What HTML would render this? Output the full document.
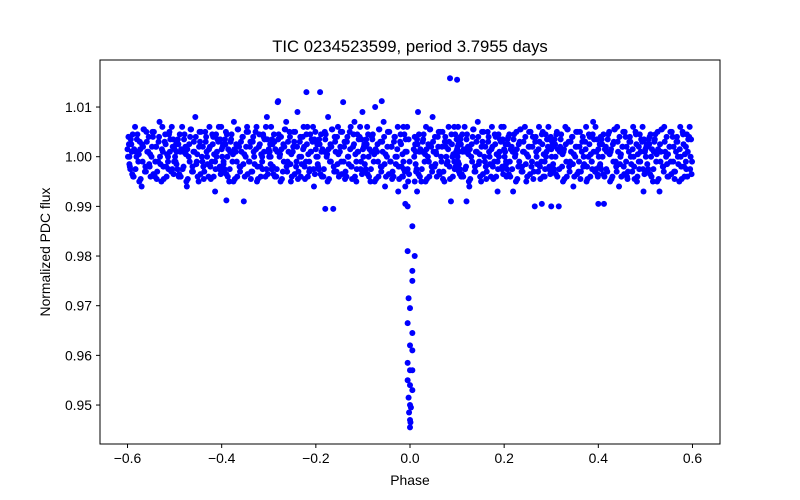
<!DOCTYPE html>
<html><head><meta charset="utf-8"><style>
html,body{margin:0;padding:0;background:#fff;}
svg{display:block;font-family:"Liberation Sans",sans-serif;}
</style></head><body>
<svg id="chart" width="800" height="500" viewBox="0 0 800 500">
<rect x="0" y="0" width="800" height="500" fill="#fff"/>
<text x="410" y="52" font-size="16.7" text-anchor="middle">TIC 0234523599, period 3.7955 days</text>
<g id="points"></g>
<g id="axes"></g>
<text x="410" y="485" font-size="13.9" text-anchor="middle">Phase</text>
<text transform="translate(50,252) rotate(-90)" font-size="13.9" text-anchor="middle">Normalized PDC flux</text>
</svg>
<script>
const segStarts=[-0.6,-0.5,-0.4,-0.3,-0.2,-0.1,0.008,0.1,0.2,0.3,0.4,0.5];
const segOffsets=[0.002,0.005,0.009,0.012,0.016,0.019,0.023,0.026,0.030,0.033,0.037,0.040,0.044,0.047,0.051,0.054,0.058,0.061,0.065,0.068,0.072,0.075,0.079,0.082,0.086,0.089,0.093,0.096,0.099,0.004];
const segOffsetsB=[0.004,0.007,0.010,0.014,0.017,0.021,0.024,0.028,0.031,0.035,0.038,0.042,0.045,0.049,0.052,0.056,0.059,0.063,0.066,0.070,0.073,0.077,0.080,0.084,0.087,0.091,0.094,0.098,0.001,0.008];
const segOffsetsC=[0.003,0.006,0.011,0.013,0.018,0.020,0.025,0.027,0.032,0.034,0.039,0.041,0.046,0.048,0.053,0.055,0.060,0.062,0.067,0.069,0.074,0.076,0.081,0.083,0.088,0.090,0.095,0.097,0.0,0.086];
const fluxS1=[1.004,0.998,1.001,0.996,1.006,1.000,0.999,1.003,0.994,1.002,0.997,1.005,1.001,0.998,1.000,1.004,0.996,1.002,0.999,1.007,0.995,1.001,1.003,0.998,1.000,1.005,0.997,1.002,0.999,1.000];
const fluxS2=[0.999,1.003,0.996,1.001,1.006,0.998,1.002,0.994,1.000,1.004,0.997,1.001,1.008,0.999,0.995,1.003,1.000,0.998,1.005,1.001,0.996,1.002,0.999,1.004,0.993,1.000,1.003,0.998,1.006,1.001];
const fluxS3=[1.002,0.997,1.005,1.000,0.995,1.003,0.999,1.007,1.001,0.996,1.002,0.998,1.004,0.991,1.000,1.006,0.999,1.003,0.997,1.001,1.005,0.995,1.002,0.998,1.000,1.004,0.996,1.008,1.001,0.999];
const fluxS4=[1.001,1.006,0.998,1.003,0.996,1.011,1.000,1.004,0.997,1.002,1.007,0.999,1.005,0.995,1.001,1.003,0.998,1.009,1.000,0.996,1.004,1.002,0.999,1.006,0.997,1.001,1.003,0.994,1.005,1.000];
const fluxS5=[1.003,0.998,1.013,1.001,0.996,1.005,1.000,1.008,0.999,1.002,0.9895,1.004,0.997,1.006,1.001,0.999,1.011,1.003,0.996,1.000,1.005,0.998,1.002,1.007,0.995,1.001,1.004,0.999,1.009,1.000];
const fluxS6=[1.002,0.997,1.006,1.000,0.995,1.004,0.999,1.010,1.001,0.996,1.003,0.998,1.007,0.994,1.000,1.005,0.999,1.002,0.996,1.004,1.000,0.993,1.003,0.998,1.006,0.997,1.001,0.995,0.999,1.002];
const fluxS7=[1.004,0.997,1.009,1.001,0.995,1.003,0.999,1.006,1.000,0.996,1.002,1.008,0.998,1.001,1.004,0.997,1.000,1.005,0.995,1.002,0.999,1.003,0.991,1.000,1.006,0.998,1.002,0.997,1.004,1.001];
const fluxS8=[0.999,1.003,0.996,1.001,1.006,0.998,1.002,0.994,1.000,1.004,0.997,1.001,1.007,0.999,0.995,1.003,1.000,0.998,1.005,1.001,0.996,1.002,0.999,1.004,0.993,1.000,1.003,0.998,1.006,1.001];
const fluxS9=[1.001,0.996,1.004,0.999,1.002,0.993,1.000,1.005,0.998,1.003,0.997,1.001,1.006,0.995,1.000,1.002,0.998,1.004,0.990,1.001,0.997,1.003,0.999,1.005,0.996,1.000,1.002,0.998,1.004,0.999];
const fluxS10=[1.003,0.997,1.000,1.005,0.990,1.002,0.998,1.001,1.006,0.996,1.003,0.999,1.004,0.994,1.000,1.002,0.997,1.005,1.001,0.998,1.003,0.995,1.000,1.004,0.999,1.007,0.997,1.001,0.996,1.002];
const fluxS11=[0.998,1.004,1.000,0.9905,1.002,0.997,1.005,1.001,0.996,1.003,0.999,1.006,0.994,1.000,1.002,0.998,1.004,0.996,1.001,1.003,0.997,1.000,1.005,0.995,1.002,0.999,1.003,0.993,1.001,0.998];
const fluxS12=[1.002,0.997,1.004,1.000,0.995,1.003,0.999,1.005,0.993,1.001,0.998,1.006,1.000,0.996,1.002,0.999,1.004,0.997,1.001,1.003,0.995,1.000,1.005,0.998,1.002,0.996,1.004,1.000,0.999,1.002];
const fluxCoreB=[0.9985,1.0035,0.9965,1.0015,0.9975,1.0045,1.0005,0.9955,1.0025,1.0055,0.9980,1.0010,1.0040,0.9960,1.0020,1.0050,0.9990,0.9970,1.0030,0.9985,1.0015,0.9955,1.0045,1.0005,0.9975,1.0035,1.0060,0.9965,1.0000,1.0025];
const fluxCoreC=[1.0025,0.9975,1.0045,0.9960,1.0010,1.0035,0.9950,1.0015,0.9990,1.0055,0.9970,1.0030,0.9985,1.0005,1.0050,0.9965,1.0020,0.9955,1.0040,1.0000,1.0060,0.9980,1.0025,0.9960,1.0045,1.0010,0.9975,1.0035,1.0015,0.9990];
const transitPhase=[-0.01,-0.005,0.005,-0.005,0.01,0.005,0.005,-0.003,0,-0.005,0.005,0,0.005,-0.005,0,0.005,-0.005,0,0.005,-0.003,0,0.002,-0.002,0,0.001,0,-0.01,0.01,-0.015,0.015];
const transitFlux=[0.9905,0.990,0.986,0.981,0.980,0.977,0.975,0.9715,0.9695,0.9665,0.9645,0.962,0.961,0.9585,0.957,0.957,0.955,0.954,0.953,0.9515,0.950,0.9495,0.9485,0.947,0.9465,0.9455,0.994,0.995,0.996,0.993];
const outlierPhase=[0.085,0.1,-0.22,-0.28,-0.18,-0.39,0.12,0.3,0.28,0.4,-0.06];
const outlierFlux=[1.0158,1.0155,1.013,1.0112,0.9895,0.9912,0.991,0.990,0.9905,0.9905,1.0112];
const xTicks=[-0.6,-0.4,-0.2,0.0,0.2,0.4,0.6];
const xTickLabels=["−0.6","−0.4","−0.2","0.0","0.2","0.4","0.6"];
const yTicks=[0.95,0.96,0.97,0.98,0.99,1.00,1.01];
const yTickLabels=["0.95","0.96","0.97","0.98","0.99","1.00","1.01"];

const NS="http://www.w3.org/2000/svg";
const X0=100,X1=720,Y0=60,Y1=444;
function xs(v){return 410+v*470.8;}
function ys(v){return 156.7-(v-1.0)*4966.7;}
const pts=document.getElementById('points');
function dot(p,f){
  const c=document.createElementNS(NS,'circle');
  c.setAttribute('cx',xs(p).toFixed(2));c.setAttribute('cy',ys(f).toFixed(2));
  c.setAttribute('r','3');c.setAttribute('fill','#0000ff');
  
  
  pts.appendChild(c);
}
const segs=[fluxS1,fluxS2,fluxS3,fluxS4,fluxS5,fluxS6,fluxS7,fluxS8,fluxS9,fluxS10,fluxS11,fluxS12];
segs.forEach((arr,si)=>{arr.forEach((f,i)=>dot(segStarts[si]+segOffsets[i],f));});
segs.forEach((arr,si)=>{fluxCoreB.forEach((f,i)=>dot(segStarts[si]+segOffsetsB[i],f));});
segs.forEach((arr,si)=>{fluxCoreC.forEach((f,i)=>dot(segStarts[si]+segOffsetsC[i],f));});
transitPhase.forEach((p,i)=>dot(p,transitFlux[i]));
outlierPhase.forEach((p,i)=>dot(p,outlierFlux[i]));

const ax=document.getElementById('axes');
const fr=document.createElementNS(NS,'rect');
fr.setAttribute('x',X0);fr.setAttribute('y',Y0);fr.setAttribute('width',X1-X0);fr.setAttribute('height',Y1-Y0);
fr.setAttribute('fill','none');fr.setAttribute('stroke','#000');fr.setAttribute('stroke-width','1');


ax.appendChild(fr);
xTicks.forEach((t,i)=>{
  const x=xs(t);
  const l=document.createElementNS(NS,'line');
  l.setAttribute('x1',x);l.setAttribute('x2',x);l.setAttribute('y1',Y1);l.setAttribute('y2',Y1+4);l.setAttribute('stroke','#000');
  
  
  ax.appendChild(l);
  const tx=document.createElementNS(NS,'text');
  tx.setAttribute('x',x);tx.setAttribute('y',Y1+19);tx.setAttribute('font-size','13.9');tx.setAttribute('text-anchor','middle');
  tx.textContent=xTickLabels[i];
  
  
  ax.appendChild(tx);
});
yTicks.forEach((t,i)=>{
  const y=ys(t);
  const l=document.createElementNS(NS,'line');
  l.setAttribute('x1',X0-4);l.setAttribute('x2',X0);l.setAttribute('y1',y);l.setAttribute('y2',y);l.setAttribute('stroke','#000');
  
  
  ax.appendChild(l);
  const tx=document.createElementNS(NS,'text');
  tx.setAttribute('x',X0-8);tx.setAttribute('y',y+5);tx.setAttribute('font-size','13.9');tx.setAttribute('text-anchor','end');
  tx.textContent=yTickLabels[i];
  
  
  ax.appendChild(tx);
});
</script>
</body></html>
